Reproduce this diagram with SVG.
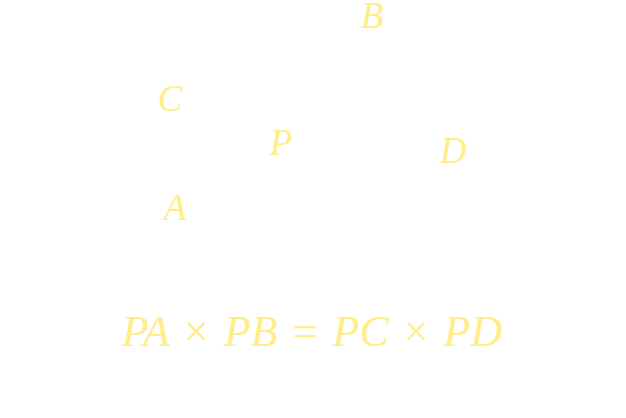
<svg xmlns="http://www.w3.org/2000/svg" width="626" height="418" viewBox="0 0 626 418">
<style>
.l{font-family:"Liberation Serif","DejaVu Serif",serif;font-style:italic;fill:#FFEE88;text-anchor:middle}
.o{font-style:normal}
</style>
<rect width="626" height="418" fill="#ffffff"/>
<g id="B"><text class="l" x="372" y="28" font-size="37">B</text></g>
<g id="C"><text class="l" x="170" y="111" font-size="37">C</text></g>
<g id="P"><text class="l" x="281" y="155" font-size="37">P</text></g>
<g id="D"><text class="l" x="453" y="163" font-size="37">D</text></g>
<g id="A"><text class="l" x="175" y="220" font-size="37">A</text></g>
<g id="eq"><text class="l" x="312" y="346" font-size="44" word-spacing="4">PA <tspan class="o">×</tspan> PB <tspan class="o">=</tspan> PC <tspan class="o">×</tspan> PD</text></g>
</svg>
